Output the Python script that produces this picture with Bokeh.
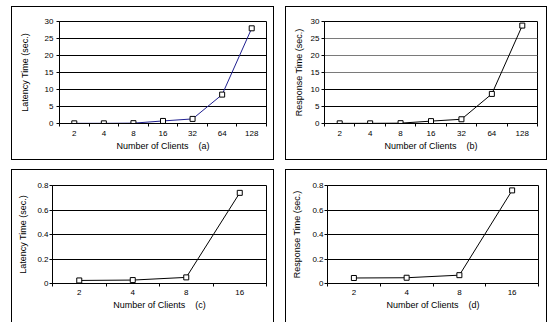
from bokeh.plotting import figure
from bokeh.layouts import row, column
from bokeh.models import FixedTicker, Range1d, Grid
from bokeh.embed import file_html
from bokeh.resources import INLINE

# ---------------- data ----------------
clients_ab = ["2", "4", "8", "16", "32", "64", "128"]
latency_a = [0.05, 0.05, 0.1, 0.75, 1.35, 8.5, 28.0]
response_b = [0.05, 0.05, 0.1, 0.7, 1.25, 8.7, 28.8]

clients_cd = ["2", "4", "8", "16"]
latency_c = [0.025, 0.028, 0.05, 0.74]
response_d = [0.045, 0.047, 0.068, 0.76]

yticks_ab = [0, 5, 10, 15, 20, 25, 30]
ylabels_ab = ["0", "5", "10", "15", "20", "25", "30"]
yticks_cd = [0, 0.2, 0.4, 0.6, 0.8]
ylabels_cd = ["0", "0.2", "0.4", "0.6", "0.8"]

xtitle = "Number of Clients\u00a0\u00a0\u00a0\u00a0"
FONT = "Liberation Sans"

TOP_BOX = {"box-shadow": "inset 0 0 0 1px black"}
BOTTOM_BOX = {"box-shadow": "inset 1px 1px 0 0 black, inset -1px 0 0 0 black"}


def panel(cats, vals, yticks, ylabels, ytitle, tag, color, w, h, bl, br, bt, bb,
          ytick_out, ylab_stand, ytitle_stand, xlab_stand, xtitle_stand, box, grey=None):
    n = len(cats)
    centers = [i + 0.5 for i in range(n)]
    p = figure(width=w, height=h, output_backend="svg", toolbar_location=None,
               x_range=Range1d(0, n), y_range=Range1d(yticks[0], yticks[-1]),
               min_border_left=bl, min_border_right=br, min_border_top=bt,
               min_border_bottom=bb, styles=box)
    p.border_fill_color = None
    p.background_fill_color = "white"
    p.outline_line_color = "black"
    p.outline_line_width = 1

    # x axis: labels at category centres, ticks between categories
    xa = p.xaxis[0]
    xa.ticker = FixedTicker(ticks=centers, minor_ticks=list(range(n + 1)))
    xa.major_label_overrides = {c: lab for c, lab in zip(centers, cats)}
    xa.major_tick_out = 0
    xa.major_tick_in = 0
    xa.minor_tick_out = 3
    xa.minor_tick_in = 0
    xa.minor_tick_line_color = "black"
    xa.axis_line_color = "black"
    xa.major_label_standoff = xlab_stand
    xa.axis_label = xtitle + "(" + tag + ")"
    xa.axis_label_standoff = xtitle_stand

    ya = p.yaxis[0]
    ya.ticker = FixedTicker(ticks=yticks)
    ya.major_label_overrides = {t: lab for t, lab in zip(yticks, ylabels)}
    ya.major_tick_out = ytick_out
    ya.major_tick_in = 0
    ya.major_tick_line_color = "black"
    ya.minor_tick_line_color = None
    ya.axis_line_color = "black"
    ya.major_label_standoff = ylab_stand
    ya.axis_label = ytitle
    ya.axis_label_standoff = ytitle_stand

    for ax in (xa, ya):
        ax.major_label_text_font = FONT
        ax.major_label_text_font_size = "8px"
        ax.major_label_text_color = "black"
        ax.axis_label_text_font = FONT
        ax.axis_label_text_font_size = "9px"
        ax.axis_label_text_font_style = "normal"
        ax.axis_label_text_color = "black"

    p.xgrid.visible = False
    if grey is None:
        p.ygrid.grid_line_color = "black"
        p.ygrid.grid_line_alpha = 1
    else:
        p.ygrid.visible = False
        black_ticks = [t for t in yticks if t not in grey]
        p.add_layout(Grid(dimension=1, ticker=FixedTicker(ticks=black_ticks),
                          grid_line_color="black"))
        p.add_layout(Grid(dimension=1, ticker=FixedTicker(ticks=grey),
                          grid_line_color="#7a7a7a"))

    p.line(centers, vals, line_color=color, line_width=1)
    p.scatter(centers, vals, marker="square", size=5, fill_color="white",
              line_color="black", line_width=1)
    return p


pa = panel(clients_ab, latency_a, yticks_ab, ylabels_ab, "Latency Time (sec.)", "a",
           "#202090", 263, 154, 48, 8, 15, 37, 3, 3, 12, 4, 2, TOP_BOX)
pb = panel(clients_ab, response_b, yticks_ab, ylabels_ab, "Response Time (sec.)", "b",
           "black", 262, 154, 39, 10, 15, 37, 3, 2, 4, 4, 2, TOP_BOX, grey=[15, 20, 25])
pc = panel(clients_cd, latency_c, yticks_cd, ylabels_cd, "Latency Time (sec.)", "c",
           "black", 263, 153, 41, 8, 16, 39, 3, 1, 6, 3, 2, BOTTOM_BOX)
pd = panel(clients_cd, response_d, yticks_cd, ylabels_cd, "Response Time (sec.)", "d",
           "black", 262, 153, 42, 9, 16, 39, 3, 1, 7, 3, 2, BOTTOM_BOX)

layout = column(row(pa, pb, spacing=11), row(pc, pd, spacing=11), spacing=9,
                margin=(6, 0, 0, 11))

open("out.html", "w").write(file_html(layout, INLINE))
